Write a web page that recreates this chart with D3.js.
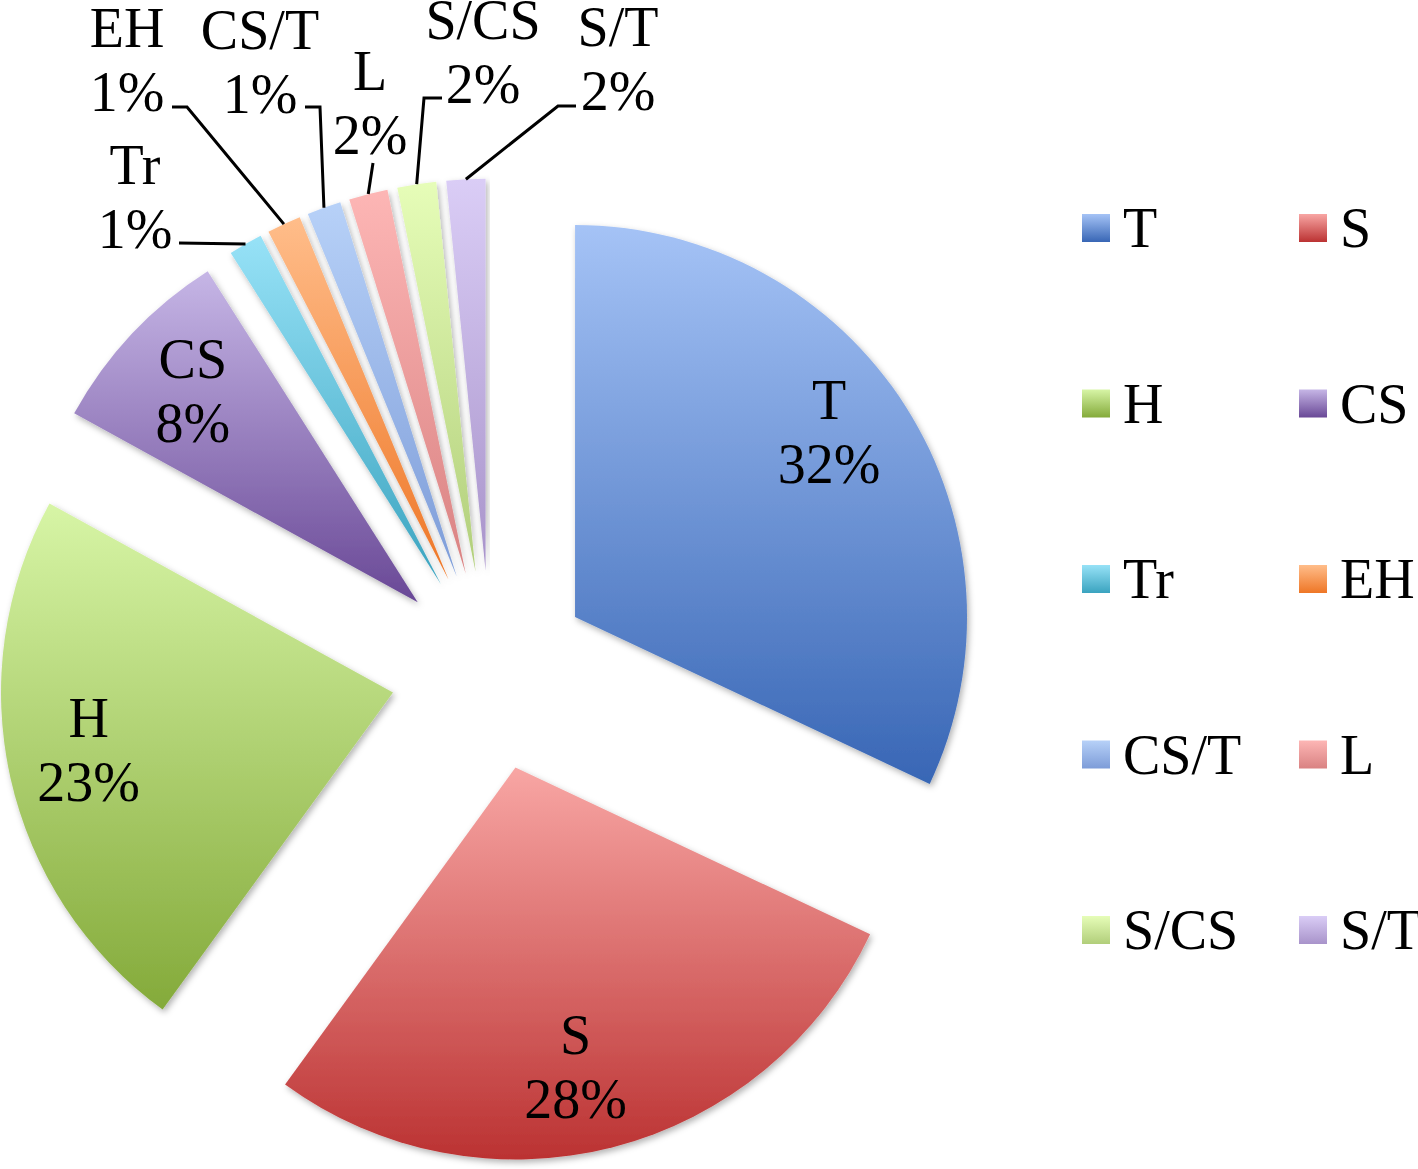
<!DOCTYPE html>
<html>
<head>
<meta charset="utf-8">
<script src="https://cdn.jsdelivr.net/npm/d3@7"></script>
<style>
  body { margin: 0; background: #fff; }
  svg text { font-family: "Liberation Serif", "Times New Roman", serif; fill: #000; }
</style>
</head>
<body>
<svg id="chart" width="1418" height="1169"></svg>
<script>
// slice data
var categories = ["T", "S", "H", "CS", "Tr", "EH", "CS/T", "L", "S/CS", "S/T"];
var values = [32, 28, 23, 8, 1.4, 1.4, 1.4, 1.6, 1.6, 1.6];
var topColors = ["#a5c3f6", "#f8a6a4", "#d7f5a6", "#c6b6e6", "#97e2f7", "#ffbd8a", "#b7d1f8", "#fdb6b5", "#e6fdb8", "#dacdf6"];
var bottomColors = ["#3866b5", "#bb3232", "#84aa3a", "#694896", "#3aa3bf", "#ee7626", "#7d9cd8", "#d98282", "#b1ce7a", "#a893ca"];

// layout
var cx = 490.6, cy = 670.6, radius = 392, explode = 100;
var fontSize = 56, lineGap = 64;

// labels drawn inside the big slices (index -> nudge from computed spot)
var insideNudge = {0: [-4, -2], 1: [-16, 22], 2: [-6, 10], 3: [-2, 17]};
// labels outside for the small slices: label centre, leader start, elbow
var outsideLabels = {
  4: {pos: [135, 216], start: [179, 243], elbow: null},
  5: {pos: [127, 79], start: [172, 107], elbow: [187, 107]},
  6: {pos: [260, 81], start: [305, 107], elbow: [320, 107]},
  7: {pos: [370, 122], start: [373, 163], elbow: null},
  8: {pos: [483, 71], start: [442, 98], elbow: [424, 98]},
  9: {pos: [618, 78], start: [576, 106], elbow: [558, 106]}
};

var svg = d3.select("#chart");
var defs = svg.append("defs");

var shadow = defs.append("filter").attr("id", "shadow")
  .attr("x", "-10%").attr("y", "-10%").attr("width", "120%").attr("height", "120%");
shadow.append("feDropShadow")
  .attr("dx", 2).attr("dy", 3).attr("stdDeviation", 3)
  .attr("flood-color", "#000").attr("flood-opacity", 0.3);

categories.forEach(function(c, i){
  var g = defs.append("linearGradient").attr("id", "grad" + i)
    .attr("x1", 0).attr("y1", 0).attr("x2", 0).attr("y2", 1);
  g.append("stop").attr("offset", "0%").attr("stop-color", topColors[i]);
  g.append("stop").attr("offset", "100%").attr("stop-color", bottomColors[i]);
});

var pie = d3.pie().sort(null).value(function(d){ return d; })
  .startAngle(0).endAngle(2 * Math.PI);
var arcs = pie(values);
var arc = d3.arc().innerRadius(0).outerRadius(radius);

function dir(a){ return [Math.sin(a), -Math.cos(a)]; }
function apexOf(d){
  var m = dir((d.startAngle + d.endAngle) / 2);
  return [cx + m[0] * explode, cy + m[1] * explode];
}

var slices = svg.append("g");
slices.selectAll("path")
  .data(arcs)
  .enter().append("path")
  .attr("transform", function(d){ var p = apexOf(d); return "translate(" + p[0] + "," + p[1] + ")"; })
  .attr("d", arc)
  .attr("fill", function(d, i){ return "url(#grad" + i + ")"; })
  .attr("filter", "url(#shadow)");

function twoLine(g, x, y, name, pct){
  g.append("text").attr("x", x).attr("y", y - lineGap / 2)
    .attr("text-anchor", "middle").attr("font-size", fontSize).text(name);
  g.append("text").attr("x", x).attr("y", y + lineGap / 2)
    .attr("text-anchor", "middle").attr("font-size", fontSize).text(pct);
}

var labels = svg.append("g");
arcs.forEach(function(d, i){
  var pct = Math.round(d.data) + "%";
  var m = dir((d.startAngle + d.endAngle) / 2);
  var a = apexOf(d);
  if (insideNudge[i]) {
    var k = 0.78;
    var x = a[0] + m[0] * radius * k + insideNudge[i][0];
    var y = a[1] + m[1] * radius * k + insideNudge[i][1];
    twoLine(labels, x, y, categories[i], pct);
  } else {
    var o = outsideLabels[i];
    var end = [a[0] + m[0] * radius, a[1] + m[1] * radius];
    var pts = [o.start];
    if (o.elbow) pts.push(o.elbow);
    pts.push(end);
    labels.append("path")
      .attr("d", d3.line()(pts))
      .attr("fill", "none").attr("stroke", "#000").attr("stroke-width", 3);
    twoLine(labels, o.pos[0], o.pos[1], categories[i], pct);
  }
});

// legend, two columns
var legX = [1082, 1299], legY0 = 214, legStep = 175.5, sw = 28;
var legend = svg.append("g");
categories.forEach(function(c, i){
  var x = legX[i % 2], y = legY0 + Math.floor(i / 2) * legStep;
  legend.append("rect").attr("x", x).attr("y", y).attr("width", sw).attr("height", sw)
    .attr("fill", "url(#grad" + i + ")");
  legend.append("text").attr("x", x + 41).attr("y", y + 33)
    .attr("font-size", fontSize).text(c);
});
</script>
</body>
</html>
